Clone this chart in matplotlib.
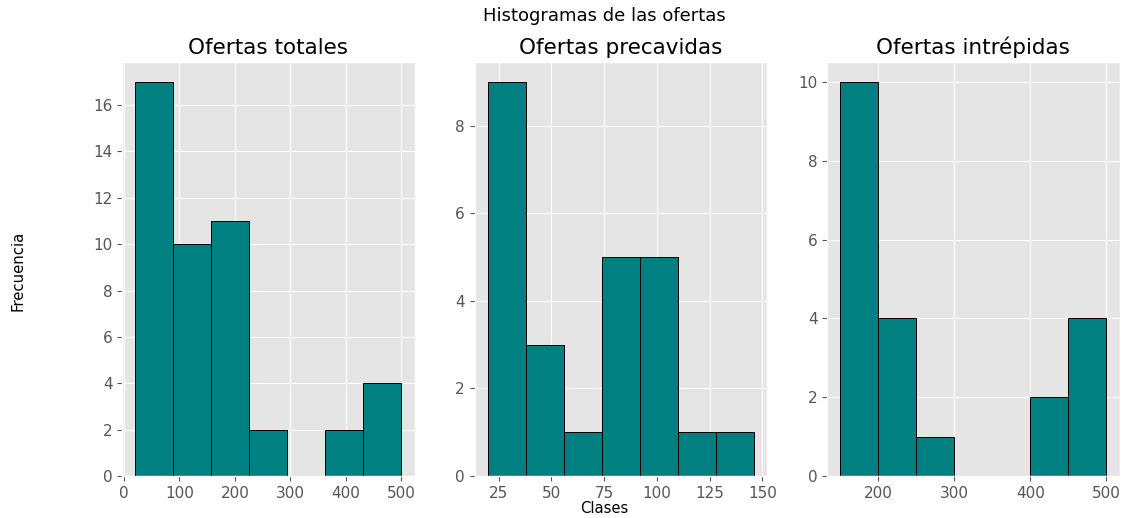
import matplotlib
matplotlib.use('Agg')
import matplotlib.pyplot as plt

# bin edges and counts
titles = ['Ofertas totales', 'Ofertas precavidas', 'Ofertas intrépidas']

edges_tot = [21, 89.4, 157.9, 226.3, 294.7, 363.1, 431.6, 500]
counts_tot = [17, 10, 11, 2, 0, 2, 4]

edges_pre = [20, 38, 56, 74, 92, 110, 128, 146]
counts_pre = [9, 3, 1, 5, 5, 1, 1]

edges_int = [150, 200, 250, 300, 350, 400, 450, 500]
counts_int = [10, 4, 1, 0, 0, 2, 4]

plt.style.use('ggplot')

fig, axs = plt.subplots(1, 3, figsize=(11.31, 5.18), dpi=100)
fig.subplots_adjust(left=0.108, right=0.990, bottom=0.081, top=0.880, wspace=0.205)

data = [(edges_tot, counts_tot), (edges_pre, counts_pre), (edges_int, counts_int)]
for ax, (edges, counts), title in zip(axs, data, titles):
    ax.hist(edges[:-1], bins=edges, weights=counts, color='#008080',
            edgecolor='black', linewidth=0.7)
    ax.set_title(title, fontsize=15.5, color='black')
    ax.tick_params(labelsize=11)

fig.suptitle('Histogramas de las ofertas', fontsize=13, x=0.534, y=0.970, va='center')
fig.supxlabel('Clases', fontsize=10.7, x=0.534, y=0.019, va='center')
fig.supylabel('Frecuencia', fontsize=10.7, x=0.016, y=0.478, ha='center', va='center')

fig.savefig('out.png', dpi=100)
